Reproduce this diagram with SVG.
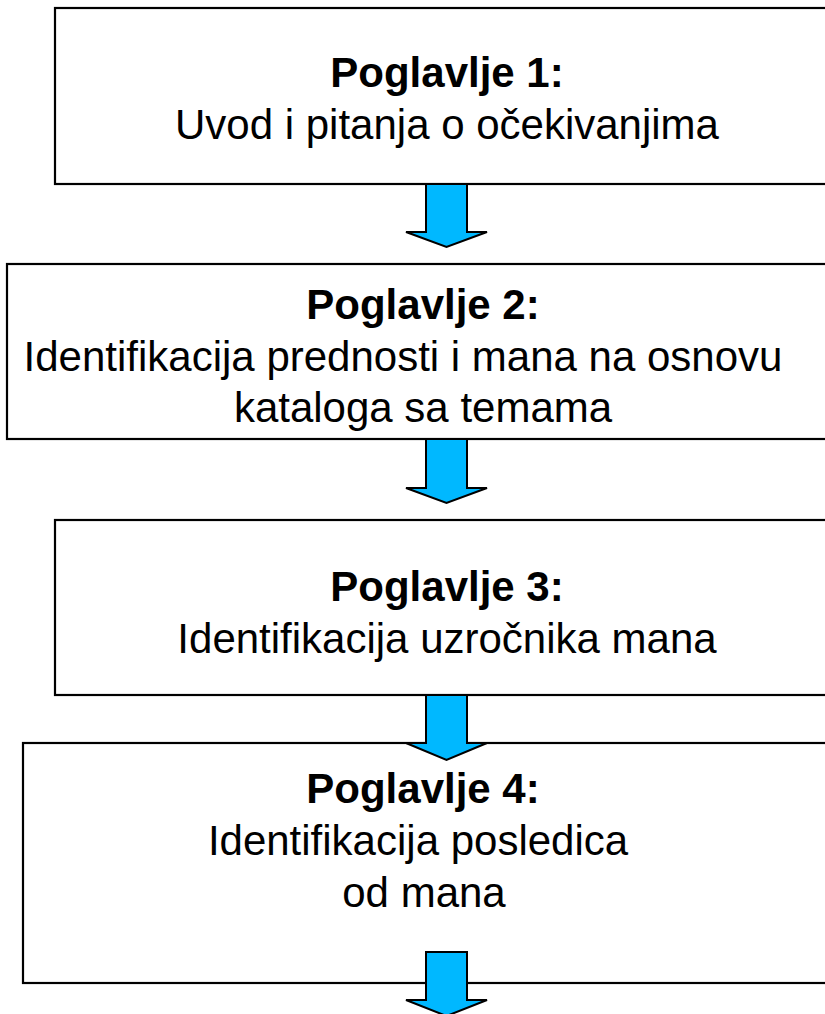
<svg xmlns="http://www.w3.org/2000/svg" width="825" height="1014" viewBox="0 0 825 1014">
<style>
.box{fill:#fff;stroke:#000;stroke-width:2.2}
.t{font-family:"Liberation Sans",Arial,sans-serif;font-size:42px;fill:#000;text-anchor:middle}
.b{font-weight:bold}
.arr{fill:#00B8FF;stroke:#000;stroke-width:2;stroke-linejoin:miter}
</style>
<rect width="825" height="1014" fill="#fff"/>
<g id="node1">
<rect class="box" x="55" y="8" width="800" height="176"/>
<text class="t b" x="447" y="87">Poglavlje 1:</text>
<text class="t" x="447" y="139">Uvod i pitanja o očekivanjima</text>
</g>
<g id="node2">
<rect class="box" x="7" y="264" width="848" height="175"/>
<text class="t b" x="423" y="319">Poglavlje 2:</text>
<text class="t" x="403" y="371">Identifikacija prednosti i mana na osnovu</text>
<text class="t" x="423" y="422">kataloga sa temama</text>
</g>
<g id="node3">
<rect class="box" x="55" y="520" width="800" height="175"/>
<text class="t b" x="447" y="601">Poglavlje 3:</text>
<text class="t" x="447" y="653">Identifikacija uzročnika mana</text>
</g>
<g id="node4">
<rect class="box" x="23" y="743" width="832" height="240"/>
<text class="t b" x="423" y="803">Poglavlje 4:</text>
<text class="t" x="418" y="855">Identifikacija posledica</text>
<text class="t" x="424" y="907">od mana</text>
</g>
<g id="connectors">
<polygon class="arr" points="426,184 467,184 467,232 487,232 446.5,247 406,232 426,232"/>
<polygon class="arr" points="426,439 467,439 467,488 487,488 446.5,503 406,488 426,488"/>
<polygon class="arr" points="426,695 467,695 467,743 487,743 446.5,760 406,743 426,743"/>
<polygon class="arr" points="426,952 467,952 467,1000 487,1000 446.5,1016 406,1000 426,1000"/>
</g>
</svg>
